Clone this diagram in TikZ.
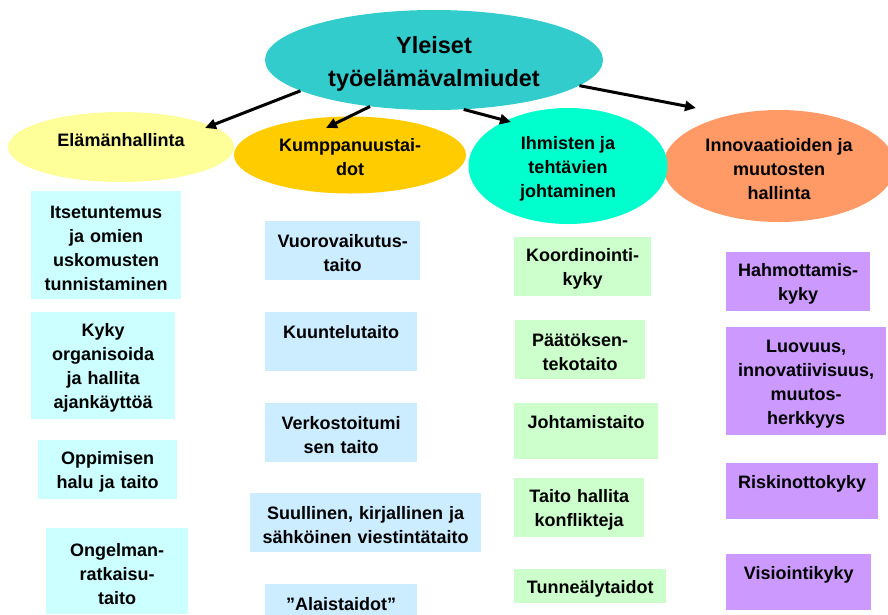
\documentclass[tikz,border=0pt]{standalone}
\usepackage{fontspec}
\setmainfont{Liberation Sans}
\usetikzlibrary{arrows.meta,shapes.geometric,calc}

\definecolor{paa}{HTML}{33CCCC}
\definecolor{keltainen}{HTML}{FFFF99}
\definecolor{oranssi}{HTML}{FFCC00}
\definecolor{turkoosi}{HTML}{00FFCC}
\definecolor{lohi}{HTML}{FF9966}
\definecolor{syaani}{HTML}{CCFFFF}
\definecolor{sininen}{HTML}{CCECFF}
\definecolor{vihrea}{HTML}{CCFFCC}
\definecolor{violetti}{HTML}{CC99FF}

\newcommand{\ylos}[1]{\rule{0pt}{#1}}

\tikzset{
  alue/.style={ellipse,inner sep=0pt,align=center,font=\bfseries\fontsize{18}{24}\selectfont},
  taito/.style={rectangle,anchor=north west,inner sep=0pt,align=center,font=\bfseries\fontsize{18}{24}\selectfont,
    execute at begin node=\rule{0pt}{18pt}},
  nuoli/.style={->,line width=3pt}
}

\begin{document}
\begin{tikzpicture}[x=1pt,y=-1pt,>={Triangle[length=11pt,width=10pt]}]
\useasboundingbox (0,0) rectangle (888,614);

\node[alue,fill=paa,minimum width=338pt,minimum height=100pt,font=\bfseries\fontsize{23.5}{33}\selectfont]   (yleiset) at (434,60)  {\ylos{25pt}Yleiset\\työelämävalmiudet};
\node[alue,fill=keltainen,minimum width=226pt,minimum height=70pt,text depth=14pt] (elama) at (121,147) {Elämänhallinta};
\node[alue,fill=oranssi,minimum width=232pt,minimum height=77pt]   (kump)  at (350,155) {\ylos{18pt}Kumppanuustai-\\dot};
\node[alue,fill=lohi,minimum width=232pt,minimum height=112pt]     (innov) at (779,166) {\ylos{19pt}Innovaatioiden ja\\muutosten\\hallinta};
\node[alue,fill=turkoosi,minimum width=199pt,minimum height=116pt] (ihm)   at (568,166) {\ylos{19pt}Ihmisten ja\\tehtävien\\johtaminen};

\path[nuoli] (yleiset.193) edge ($(elama.center)+(84,-19)$)
             (yleiset.216) edge ($(kump.center)+(-24,-27)$)
             (yleiset.301) edge ($(ihm.center)+(-57,-44)$)
             (yleiset.350) edge ($(innov.center)+(-83,-58)$);

% Elämänhallinta
\node[taito,fill=syaani,text width=150pt,minimum height=108pt] (e1) at (31,191) {Itsetuntemus\\ja omien\\uskomusten\\tunnistaminen};
\node[taito,fill=syaani,text width=144pt,minimum height=107pt] (e2) at (31,312) {Kyky\\organisoida\\ja hallita\\ajankäyttöä};
\node[taito,fill=syaani,text width=139pt,minimum height=59pt]  (e3) at (38,440) {Oppimisen\\halu ja taito};
\node[taito,fill=syaani,text width=142pt,minimum height=86pt]  (e4) at (46,528) {Ongelman-\\ratkaisu-\\taito};

% Kumppanuustaidot
\node[taito,fill=sininen,text width=155pt,minimum height=59pt] (k1) at (265,221) {Vuorovaikutus-\\taito};
\node[taito,fill=sininen,text width=152pt,minimum height=59pt] (k2) at (265,312) {Kuuntelutaito\\\mbox{}};
\node[taito,fill=sininen,text width=152pt,minimum height=59pt] (k3) at (265,403) {Verkostoitumi\\sen taito};
\node[taito,fill=sininen,text width=231pt,minimum height=59pt] (k4) at (250,493) {Suullinen, kirjallinen ja\\sähköinen viestintätaito};
\node[taito,fill=sininen,text width=152pt,minimum height=59pt] (k5) at (265,584) {”Alaistaidot”\\\mbox{}};

% Johtaminen
\node[taito,fill=vihrea,text width=137pt,minimum height=59pt] (j1) at (514,237) {Koordinointi-\\kyky};
\node[taito,fill=vihrea,text width=130pt,minimum height=59pt] (j2) at (515,320) {Päätöksen-\\tekotaito};
\node[taito,fill=vihrea,text width=144pt,minimum height=56pt] (j3) at (514,403) {Johtamistaito\\\mbox{}};
\node[taito,fill=vihrea,text width=130pt,minimum height=59pt] (j4) at (514,478) {Taito hallita\\konflikteja};
\node[taito,fill=vihrea,text width=152pt,minimum height=34pt] (j5) at (514,569) {Tunneälytaidot};

% Innovaatiot
\node[taito,fill=violetti,text width=144pt,minimum height=59pt]  (i1) at (726,252) {Hahmottamis-\\kyky};
\node[taito,fill=violetti,text width=160pt,minimum height=108pt] (i2) at (726,327) {Luovuus,\\innovatiivisuus,\\muutos-\\herkkyys};
\node[taito,fill=violetti,text width=152pt,minimum height=56pt]  (i3) at (726,463) {Riskinottokyky\\\mbox{}};
\node[taito,fill=violetti,text width=145pt,minimum height=56pt]  (i4) at (726,554) {Visiointikyky\\\mbox{}};
\end{tikzpicture}
\end{document}
